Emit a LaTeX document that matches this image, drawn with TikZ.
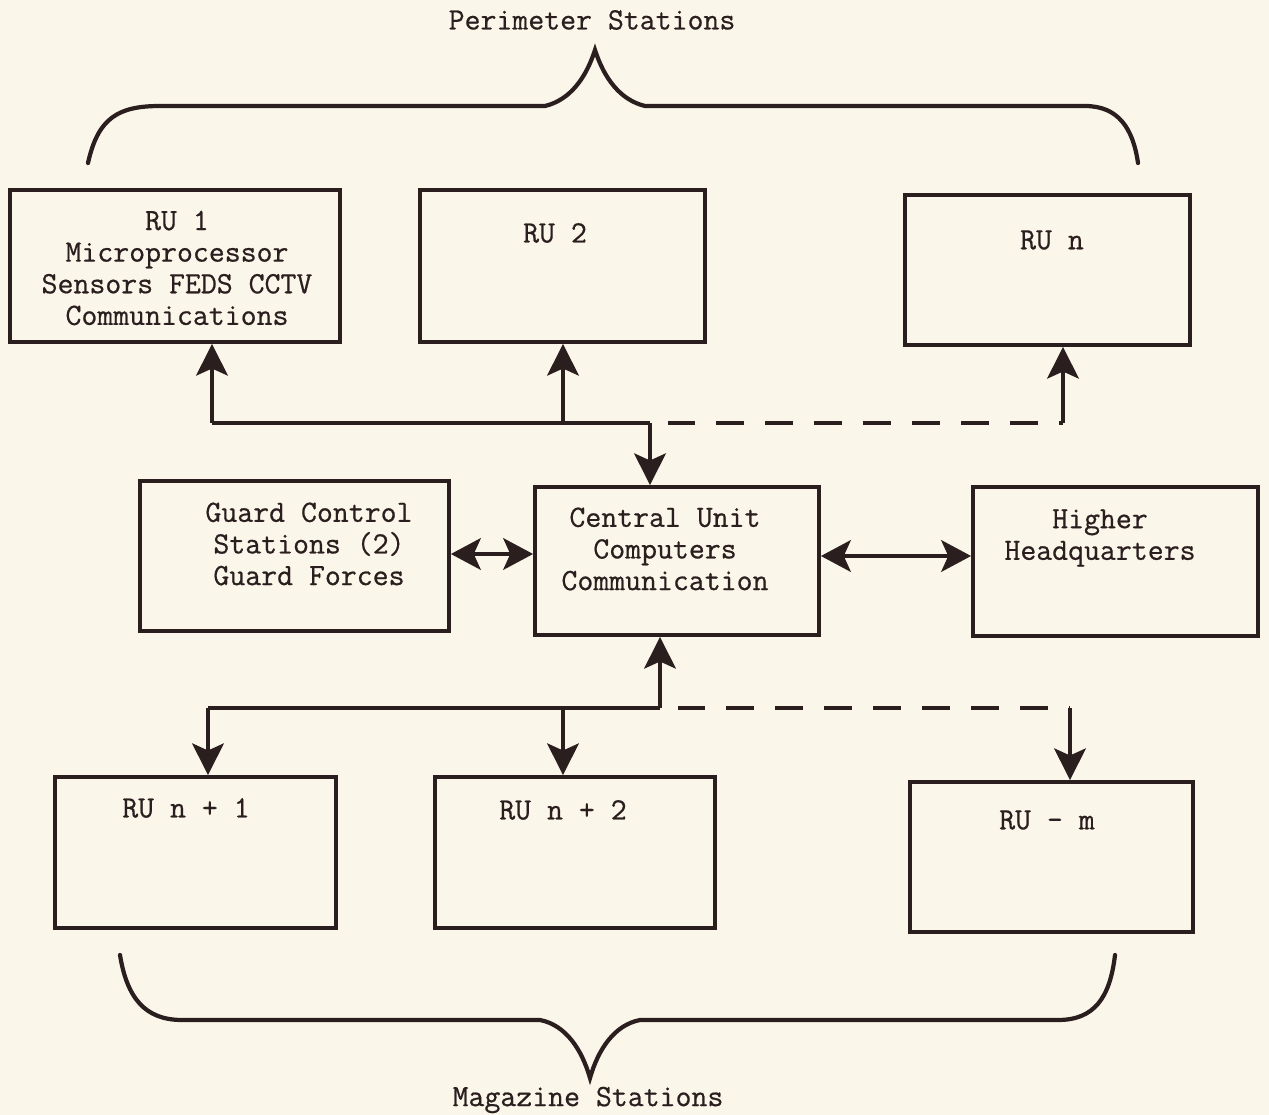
\documentclass[tikz,border=0pt]{standalone}
\usepackage{fontspec}
\setmonofont[FakeBold=0.6]{Latin Modern Mono}
\usetikzlibrary{arrows.meta,calc}
\definecolor{paper}{HTML}{FBF6EA}
\definecolor{ink}{HTML}{2A1E1E}
\tikzset{
  unitbox/.style={draw=ink, line width=2.2pt, rectangle, inner sep=0pt},
  lbl/.style={text=ink, font=\ttfamily\fontsize{17.6}{18}\selectfont, align=center, inner sep=0pt},
  wire/.style={draw=ink, line width=2.2pt},
  tip/.style={wire, -{Stealth[length=18pt,width=18pt,inset=4pt]}},
  tips/.style={wire, {Stealth[length=17pt,width=18pt,inset=4pt]}-{Stealth[length=17pt,width=18pt,inset=4pt]}},
  dashwire/.style={wire, dash pattern=on 0.56cm off 0.42cm, dash phase=-0.35cm},
  brace/.style={draw=ink, line width=2.4pt, line cap=round, line join=miter}
}
\begin{document}
\begin{tikzpicture}[x=0.02cm,y=-0.02cm]
  \useasboundingbox[fill=paper] (0,0) rectangle (1269,1115);

  % headings
  \node[lbl] (perim) at (592,20) {Perimeter Stations};
  \node[lbl] (mag) at (588,1100) {Magazine Stations};

  % braces
  \draw[brace] (88,163) .. controls (98,118) and (118,106) .. (160,106)
     -- (545,106) .. controls (570,100) and (586,78) .. (595,50)
     .. controls (604,78) and (620,100) .. (645,106)
     -- (1085,106) .. controls (1118,106) and (1133,128) .. (1138,163);
  \draw[brace] (120,955) .. controls (127,998) and (145,1020) .. (182,1020)
     -- (540,1020) .. controls (566,1025) and (582,1050) .. (590,1078)
     .. controls (598,1050) and (614,1025) .. (640,1020)
     -- (1058,1020) .. controls (1094,1020) and (1110,998) .. (1115,955);

  % perimeter remote units
  \node[unitbox, minimum width=6.6cm, minimum height=3.04cm] (ru1) at (175,266) {};
  \node[unitbox, minimum width=5.7cm, minimum height=3.04cm] (ru2) at (562.5,266) {};
  \node[unitbox, minimum width=5.7cm, minimum height=3.0cm] (run) at (1047.5,270) {};
  \node[lbl] (ru1t) at (177,268) {RU 1\\Microprocessor\\Sensors FEDS CCTV\\Communications};
  \node[lbl] (ru2t) at (555,233) {RU 2};
  \node[lbl] (runt) at (1052,240) {RU n};

  % middle row
  \node[unitbox, minimum width=6.18cm, minimum height=3.0cm] (guard) at (294.5,556) {};
  \node[unitbox, minimum width=5.68cm, minimum height=2.96cm] (cu) at (677,561) {};
  \node[unitbox, minimum width=5.7cm, minimum height=2.98cm] (hq) at (1115.5,561.5) {};
  \node[lbl] (guardt) at (309,544) {Guard Control\\Stations (2)\\Guard Forces};
  \node[lbl] (cut) at (665,549) {Central Unit\\Computers\\Communication};
  \node[lbl] (hqt) at (1100,538) {Higher\\Headquarters};

  % magazine remote units
  \node[unitbox, minimum width=5.62cm, minimum height=3.02cm] (rn1) at (195.5,852.5) {};
  \node[unitbox, minimum width=5.6cm, minimum height=3.02cm] (rn2) at (575,852.5) {};
  \node[unitbox, minimum width=5.66cm, minimum height=3.0cm] (rum) at (1051.5,857) {};
  \node[lbl] (rn1t) at (186,808) {RU n + 1};
  \node[lbl] (rn2t) at (563,810) {RU n + 2};
  \node[lbl] (rumt) at (1047,820) {RU - m};

  % upper bus
  \coordinate (tj) at (650,423);
  \coordinate (tl) at (212,423);
  \coordinate (t2) at (563,423);
  \coordinate (tr) at (1063,423);
  \draw[wire] (tl) -- (tj);
  \draw[tip] (tl) -- (tl |- ru1.south);
  \draw[tip] (t2) -- (t2 |- ru2.south);
  \draw[tip] (tj) -- (tj |- cu.north);
  \draw[dashwire] (tj) -- (tr);
  \draw[tip] (tr) -- (tr |- run.south);

  % middle links
  \coordinate (ml) at (0,554);
  \coordinate (mr) at (0,556);
  \draw[tips] (guard.east |- ml) -- (cu.west |- ml);
  \draw[tips] (cu.east |- mr) -- (hq.west |- mr);

  % lower bus
  \coordinate (bj) at (660,708);
  \coordinate (bl) at (208,708);
  \coordinate (b2) at (563,708);
  \coordinate (br) at (1070,708);
  \draw[tip] (bj) -- (bj |- cu.south);
  \draw[wire] (bj) -- (bl);
  \draw[tip] (bl) -- (bl |- rn1.north);
  \draw[tip] (b2) -- (b2 |- rn2.north);
  \draw[dashwire] (bj) -- (br);
  \draw[tip] (br) -- (br |- rum.north);
\end{tikzpicture}
\end{document}
